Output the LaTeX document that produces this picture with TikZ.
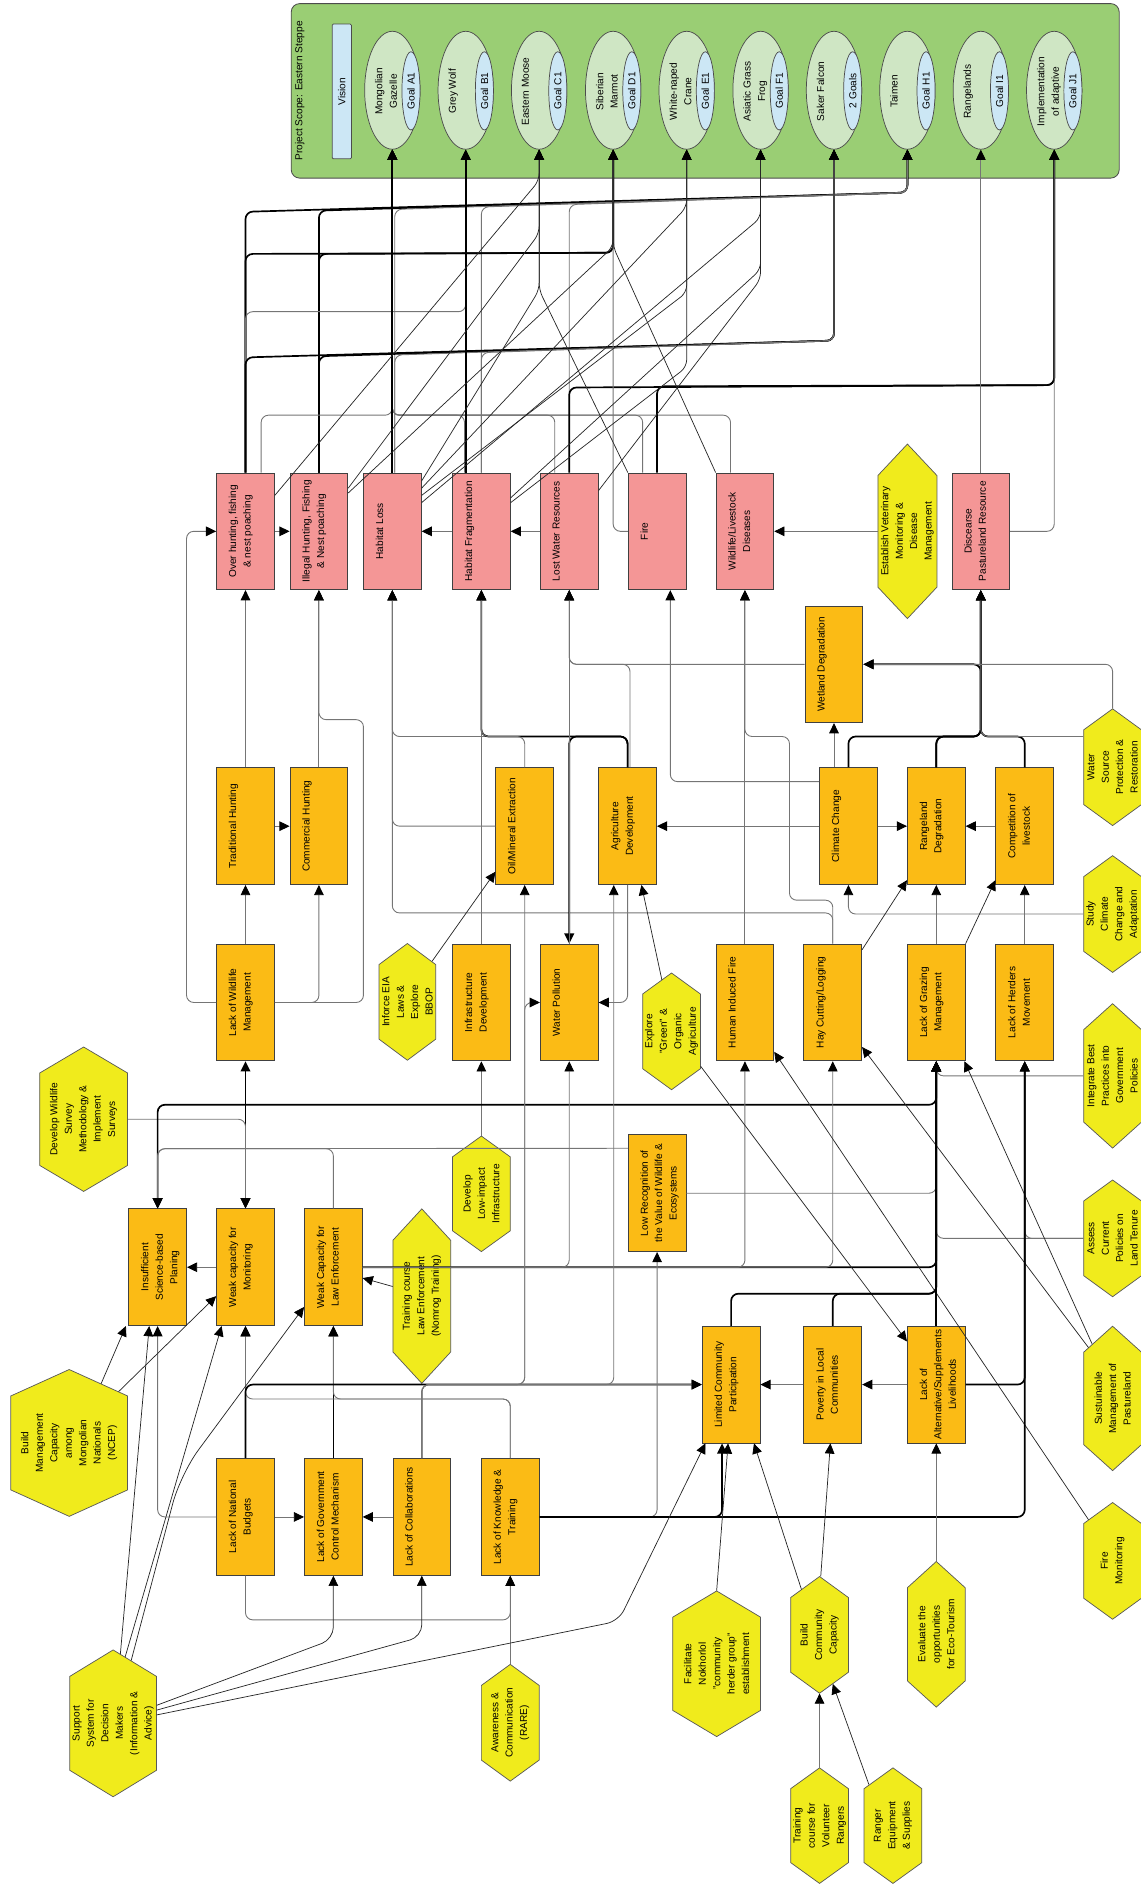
\documentclass[tikz,border=0pt]{standalone}
\usepackage{fontspec}
\setmainfont{Liberation Sans}
\usetikzlibrary{arrows.meta,calc,shapes.geometric}
\definecolor{pinkc}{HTML}{F49696}
\definecolor{orc}{HTML}{FBBB15}
\definecolor{yelc}{HTML}{F0EB1C}
\definecolor{grc}{HTML}{9ACE74}
\definecolor{elc}{HTML}{CFE6C4}
\definecolor{blc}{HTML}{CCE7F5}
\definecolor{lnc}{HTML}{757575}
\tikzset{
 every node/.style={font=\fontsize{8.4}{12}\selectfont},
 bxs/.style={draw=black!75,line width=0.7pt,minimum width=48pt,minimum height=97pt,inner sep=0pt},
 tx/.style={rotate=90,align=center,inner sep=0pt},
 tk/.style={draw=black,line width=1.4pt,rounded corners=6pt,-{Triangle[length=8.5pt,width=8pt]}},
 tn/.style={draw=lnc,line width=0.75pt,rounded corners=6pt,-{Triangle[length=8.5pt,width=8pt,color=black]}},
 dg/.style={draw=black!85,line width=0.6pt,rounded corners=6pt,-{Triangle[length=8.5pt,width=8pt,color=black]}},
}
\newcommand\bx[5]{\node[bxs,fill=#4] (#1) at (#2,#3) {};\node[tx,anchor=north] at ($(#1.center)+(-14,0)$) {#5};}
\newcommand\hx[6]{\node[inner sep=0pt,minimum width=#4pt,minimum height=#5pt] (#1) at (#2,#3) {};
 \filldraw[fill=yelc,draw=black!65,line width=0.6pt] (#2,#3) ++(0,-#5/2) -- ++(#4/2,0.18*#5) -- ++(0,0.64*#5) -- ++(-#4/2,0.18*#5) -- ++(-#4/2,-0.18*#5) -- ++(0,-0.64*#5) -- cycle;
 \node[tx] at (#1) {#6};}
\newcommand\goal[4]{%
 \node[ellipse,draw=black!70,line width=0.6pt,fill=elc,minimum width=46pt,minimum height=98pt,inner sep=0pt] (#1) at (#2,75) {};
 \node[ellipse,draw=black!70,line width=0.6pt,fill=blc,minimum width=15pt,minimum height=65pt,inner sep=0pt] at (#2+15.5,75.5) {};
 \node[tx,anchor=north] at (#2-14.5,76) {#3};
 \node[tx] at (#2+15.5,75.5) {#4};}
\begin{document}
\begin{tikzpicture}[x=1pt,y=-1pt]
\useasboundingbox (0,0) rectangle (948,1568);
% ---------- scope panel ----------
\node[draw=black!70,fill=grc,line width=0.7pt,rounded corners=7pt,minimum width=688pt,minimum height=145pt,inner sep=0pt] (PANEL) at (586,75.5) {};
\node[tx] (PT) at (249,75.5) {Project Scope: Eastern Steppe};
\node[draw=black!70,fill=blc,line width=0.6pt,minimum width=16pt,minimum height=112pt,inner sep=0pt,rounded corners=1pt] (VIS) at (284,76) {};
\node[tx] at (VIS) {Vision};
\goal{G1}{326}{Mongolian\\Gazelle}{Goal A1}
\goal{G2}{387}{Grey Wolf}{Goal B1}
\goal{G3}{448}{Eastern Moose}{Goal C1}
\goal{G4}{509.5}{Siberian\\Marmot}{Goal D1}
\goal{G5}{570.6}{White-naped\\Crane}{Goal E1}
\goal{G6}{632}{Asiatic Grass\\Frog}{Goal F1}
\goal{G7}{693}{Saker Falcon}{2 Goals}
\goal{G8}{754}{Taimen}{Goal H1}
\goal{G9}{815}{Rangelands}{Goal I1}
\goal{G10}{876}{Implementation\\of adaptive}{Goal J1}
% ---------- threats ----------
\bx{OH}{204}{441.5}{pinkc}{Over hunting, fishing\\\& nest poaching}
\bx{IH}{265}{441.5}{pinkc}{Illegal Hunting, Fishing\\\& Nest poaching}
\bx{HL}{326}{441.5}{pinkc}{Habitat Loss}
\bx{HF}{400}{441.5}{pinkc}{Habitat Fragmentation}
\bx{LW}{473}{441.5}{pinkc}{Lost Water Resources}
\bx{FI}{546}{441.5}{pinkc}{Fire}
\bx{WD}{619}{441.5}{pinkc}{Wildlife/Livestock\\Diseases}
\bx{DP}{815}{441.5}{pinkc}{Discearse\\Pastureland Resource}
\hx{EV}{754}{441.5}{49}{145}{Establish Veterinary\\Monitoring \&\\Disease\\Management}
\bx{WET}{693}{552}{orc}{Wetland Degradation}
% ---------- row 2 ----------
\bx{TH}{204}{686.5}{orc}{Traditional Hunting}
\bx{CH}{265}{686.5}{orc}{Commercial Hunting}
\bx{OM}{436}{686.5}{orc}{Oil/Mineral Extraction}
\bx{AD}{521.5}{686.5}{orc}{Agriculture\\Development}
\bx{CC}{705}{686.5}{orc}{Climate Change}
\bx{RD}{778}{686.5}{orc}{Rangeland\\Degradation}
\bx{CL}{851.5}{686.5}{orc}{Competition of\\livestock}
\hx{WS}{924.5}{637.5}{48}{97}{Water\\Source\\Protection \&\\Restoration}
% ---------- row 3 ----------
\bx{LWM}{204}{833}{orc}{Lack of Wildlife\\Management}
\hx{EIA}{338.5}{832.5}{47}{97}{Inforce EIA\\Laws \&\\Explore\\BBOP}
\bx{ID}{400}{833}{orc}{Infrastructure\\Development}
\bx{WP}{473}{833}{orc}{Water Pollution}
\hx{EG}{558}{857}{48}{97}{Explore\\"Green" \&\\Organic\\Agriculture}
\bx{HIF}{619}{833}{orc}{Human Induced Fire}
\bx{HC}{692}{833}{orc}{Hay Cutting/Logging}
\bx{LGM}{778}{833}{orc}{Lack of Grazing\\Management}
\bx{LHM}{851.5}{833}{orc}{Lack of Herders\\Movement}
\hx{ST}{924.5}{759.5}{48}{97}{Study\\Climate\\Change and\\Adaptation}
\hx{IB}{924.5}{894}{48}{120}{Integrate Best\\Practices into\\Government\\Policies}
\hx{AS}{924.5}{1029}{48}{97}{Assess\\Current\\Policies on\\Land Tenure}
\hx{SM}{924.5}{1162}{48}{120}{Sustuinable\\Management of\\Pastureland}
\hx{FM}{924.5}{1297}{48}{97}{Fire\\Monitoring}
% ---------- row 4 ----------
\hx{SV}{69.5}{930}{73}{120}{Develop Wildlife\\Survey\\Methodology \&\\Implement\\Surveys}
\bx{LR}{546}{991.5}{orc}{Low Recognition of\\the Value of Wildlife \&\\Ecosystems}
\hx{DL}{400}{992}{48}{96}{Develop\\Low-impact\\Infrastructure}
\bx{IS}{131}{1053}{orc}{Insufficient\\Science-based\\Planing}
\bx{WM}{204}{1053}{orc}{Weak capacity for\\Monitoring}
\bx{WLE}{277}{1053}{orc}{Weak Capacity for\\Law Enforcement}
\hx{TR}{350.5}{1077}{48}{145}{Training course\\Law Enforcement\\(Nomrog Training)}
\hx{BM}{57.5}{1199}{97}{122}{Build\\Management\\Capacity\\among\\Mongolian\\Nationals\\(NCEP)}
% ---------- row 5 / 6 ----------
\bx{LCP}{607.5}{1150.5}{orc}{Limited Community\\Participation}
\bx{PLC}{692}{1150.5}{orc}{Poverty in Local\\Communities}
\bx{LAL}{778}{1150.5}{orc}{Lack of\\Alternative/Supplements\\Livelihoods}
\bx{LNB}{204}{1260.5}{orc}{Lack of National\\Budgets}
\bx{LGC}{277}{1260.5}{orc}{Lack of Government\\Control Mechanism}
\bx{LC}{350.5}{1260.5}{orc}{Lack of Collaborations}
\bx{LKT}{424}{1260.5}{orc}{Lack of Knowledge \&\\Training}
% ---------- bottom strategies ----------
\hx{SS}{94}{1432}{72}{122}{Support\\System for\\Decision\\Makers\\(Information \&\\Advice)}
\hx{AW}{424}{1431.5}{48}{97}{Awareness \&\\Communication\\(RARE)}
\hx{FC}{595.5}{1382.5}{73}{121}{Facilitate\\Nokhorlol\\"community\\herder group"\\establishment}
\hx{BC}{681}{1358.5}{48}{97}{Build\\Community\\Capacity}
\hx{EO}{778}{1358}{48}{121}{Evaluate the\\opportunities\\for Eco-Tourism}
\hx{TV}{681}{1517}{48}{96}{Training\\course for\\Volunteer\\Rangers}
\hx{RE}{742}{1517}{48}{96}{Ranger\\Equipment\\\& Supplies}
% ================= connectors: threats -> goals =================
\draw[tk] (OH.north) -- (204,176) -- (754,160) -- (G8.south);
\draw[tk] (IH.north) -- (265,175) -- (754,160) -- (G8.south);
\draw[tn] ($(HL.north)+(2,0)$) -- (328,174) -- (754,160) -- (G8.south);
\draw[tn] (HF.north) -- (400,172) -- (754,160) -- (G8.south);
\draw[tn] (LW.north) -- (473,170) -- (754,160) -- (G8.south);
\draw[tk] (OH.north) -- (204,211) -- (509.5,210) -- (G4.south);
\draw[tk] (IH.north) -- (265,211) -- (509.5,210) -- (G4.south);
\draw[tn] (OH.north) -- (204,259) -- (387,259) -- (G2.south);
\draw[tk] (OH.north) -- (204,297) -- (693,283) -- (G7.south);
\draw[tk] (IH.north) -- (265,296) -- (693,283) -- (G7.south);
\draw[tn] ($(HL.north)+(2,0)$) -- (328,295) -- (693,283) -- (G7.south);
\draw[tn] (HF.north) -- (400,293) -- (693,283) -- (G7.south);
\draw[tn] ($(OH.north)+(13,0)$) -- (217,345) -- (326,345) -- (G1.south);
\draw[tn] ($(HF.north)+(-14,0)$) -- (386,345) -- (326,345) -- (G1.south);
\draw[tn] ($(LW.north)+(-12,0)$) -- (461,345) -- (326,345) -- (G1.south);
\draw[tn] ($(FI.north)+(-12,0)$) -- (534,345) -- (326,345) -- (G1.south);
\draw[tn] ($(WD.north)+(-12,0)$) -- (607,345) -- (326,345) -- (G1.south);
\draw[tk] (HL.north) -- (G1.south);
\draw[tk] ($(HF.north)+(-13,0)$) -- (G2.south);
\draw[tk] (LW.north) -- (473,322) -- (876,320) -- (G10.south);
\draw[tk] (FI.north) -- (546,321) -- (876,320) -- (G10.south);
\draw[tn] (FI.west) -- (509.5,441.5) -- (G4.south);
\draw[tn] (DP.north) -- (G9.south);
\draw[tn] (DP.east) -- (876,441.5) -- (G10.south);
% diagonals
\draw[dg] ($(OH.north east)+(0,19)$) -- (448,150) -- (G3.south);
\draw[dg] ($(IH.north east)+(0,13)$) -- (448,194) -- (G3.south);
\draw[dg] ($(IH.north east)+(0,17)$) -- (509.5,205) -- (G4.south);
\draw[dg] ($(HL.north east)+(0,7)$) -- (448,241) -- (G3.south);
\draw[dg] ($(HL.north east)+(0,13)$) -- (570.6,172) -- (G5.south);
\draw[dg] ($(HL.north east)+(0,19)$) -- (570.6,243) -- (G5.south);
\draw[dg] ($(HL.north east)+(0,25)$) -- (632,181) -- (G6.south);
\draw[dg] ($(HF.north east)+(0,21)$) -- (632,224) -- (G6.south);
\draw[dg] ($(HF.north east)+(0,25)$) -- (570.6,305) -- (G5.south);
\draw[dg] ($(LW.north east)+(0,15)$) -- (632,232) -- (G6.south);
\draw[dg] (FI.north west) -- (448,241) -- (G3.south);
\draw[dg] (WD.north west) -- (509.5,205) -- (G4.south);
% ================= middle =================
\draw[tn] (OH.east) -- (IH.west);
\draw[tn] (HF.west) -- (HL.east);
\draw[tn] (LW.west) -- (HF.east);
\draw[tn] (EV.west) -- (WD.east);
\draw[tn] (TH.north) -- (OH.south);
\draw[tn] (CH.north) -- (IH.south);
\draw[tn] (LWM.north) -- (TH.south);
\draw[tn] (TH.east) -- (CH.west);
\draw[tn] (LWM.west) -- (155,833) -- (155,441.5) -- (OH.west);
\draw[tn] (LWM.east) -- (265,833) -- (CH.south);
\draw[tn] (LWM.east) -- (302,833) -- (302,598) -- (265,598) -- (IH.south);
\draw[tn] (OM.west) -- (326,686.5) -- (HL.south);
\draw[tn] (HC.north) -- (692,758.6) -- (326,758.6) -- (HL.south);
\draw[tn] (AD.north) -- (521.5,612) -- (326,612) -- (HL.south);
\draw[tk] (AD.north) -- (521.5,612) -- (400,612) -- (HF.south);
\draw[tn] (OM.north) -- (436,612) -- (400,612) -- (HF.south);
\draw[tk] (AD.north) -- (521.5,612) -- (473,612) -- (WP.north);
\draw[tn] ($(AD.north)+(2,0)$) -- (523.5,552) -- (473,552) -- (LW.south);
\draw[tn] (WET.west) -- (473,552) -- (LW.south);
\draw[tn] (WP.north) -- (LW.south);
\draw[tn] (ID.north) -- (HF.south);
\draw[tn] (DL.north) -- (ID.south);
\draw[tn] (AD.south) -- (521.5,833) -- (WP.east);
\draw[tn] (HIF.north) -- (WD.south);
\draw[tn] (HC.north) -- (692,748) -- (656,748) -- (656,612) -- (619,612) -- (WD.south);
\draw[tn] ($(CC.west)+(0,-37)$) -- (557,649.5) -- ($(FI.south)+(11,0)$);
\draw[tn] (CC.west) -- (AD.east);
\draw[tn] ($(CC.north)+(-12,0)$) -- (WET.south);
\draw[tk] (CC.north) -- (705,612) -- (815,612) -- (DP.south);
\draw[tk] (RD.north) -- (778,612) -- (815,612) -- (DP.south);
\draw[tk] (CL.north) -- (851.5,612) -- (815,612) -- (DP.south);
\draw[tk] (RD.north) -- (778,612) -- (815,612) -- (815,552) -- (WET.east);
\draw[tn] ($(WS.west)+(0,-25.5)$) -- (815,612) -- (DP.south);
\draw[tn] (WS.north) -- (924.5,552) -- (WET.east);
\draw[tn] (CC.east) -- (RD.west);
\draw[tn] (CL.west) -- (RD.east);
\draw[tn] (ST.west) -- (705,759.5) -- (CC.south);
\draw[dg] ($(EIA.north)+(20.5,15)$) -- ($(OM.south west)+(0,-11)$);
\draw[dg] ($(EG.north)+(-8,6)$) -- ($(AD.south)+(11.5,0)$);
\draw[dg] ($(HC.north east)+(0,5)$) -- ($(RD.south west)+(0,-4)$);
\draw[tn] (LGM.north) -- (RD.south);
\draw[dg] (LGM.north east) -- ($(CL.south west)+(0,-4)$);
\draw[tn] (LHM.north) -- (CL.south);
% ================= lower middle =================
\draw[tk,{Triangle[length=8.5pt,width=8pt]}-{Triangle[length=8.5pt,width=8pt]}] (WM.north) -- (LWM.south);
\draw[tn] (SV.east) -- (204,930) -- (WM.north);
\draw[tk,{Triangle[length=8.5pt,width=8pt]}-{Triangle[length=8.5pt,width=8pt]}] (IS.north) -- (131,918) -- (778,918) -- (LGM.south);
\draw[tn] ($(LR.north west)+(0,11.5)$) -- (131,954.5) -- (IS.north);
\draw[tn] (WLE.north) -- (277,954.5) -- (131,954.5) -- (IS.north);
\draw[tn] (WM.west) -- (IS.east);
\draw[tk] (WLE.east) -- (778,1053) -- (LGM.south);
\draw[tn] (WLE.east) -- (473,1053) -- (WP.south);
\draw[tn] (WLE.east) -- (619,1053) -- (HIF.south);
\draw[tn] (WLE.east) -- (692,1053) -- (HC.south);
\draw[dg] ($(TR.west)+(0,-8)$) -- ($(WLE.east)+(0,9)$);
\draw[tn] (LR.east) -- (778,991.5) -- (LGM.south);
\draw[tn] (IB.west) -- (778,894) -- (LGM.south);
\draw[tn] (AS.west) -- (851.5,1029) -- (LHM.south);
\draw[tn] (AS.west) -- (778,1029) -- (LGM.south);
\draw[dg] ($(SM.north)+(-20,18)$) -- ($(HC.east)+(0,37)$);
\draw[dg] ($(SM.north)+(-17,15)$) -- ($(LGM.south east)+(-1,0)$);
\draw[dg] ($(FM.north)+(-20,14.5)$) -- ($(HIF.east)+(0,41)$);
\draw[dg] ($(EG.east)+(0,29)$) -- ($(LAL.north west)+(0,13)$);
% ================= rows 5 / 6 =================
\draw[tk] (LCP.north) -- (607.5,1075) -- (778,1075) -- (LGM.south);
\draw[tk] (PLC.north) -- (692,1075) -- (778,1075) -- (LGM.south);
\draw[tk] (LAL.north) -- (LGM.south);
\draw[tn] (LAL.west) -- (PLC.east);
\draw[tn] (PLC.west) -- (LCP.east);
\draw[tk] (LAL.east) -- (851.5,1150.5) -- (LHM.south);
\draw[tk] (LNB.north) -- (WM.south);
\draw[tk] (LGC.north) -- (WLE.south);
\draw[tn] (LKT.north) -- (424,1162.5) -- (277,1162.5) -- (WLE.south);
\draw[tn] (LKT.north) -- (424,1162.5) -- (204,1162.5) -- (WM.south);
\draw[tk] (LNB.north) -- (204,1150.5) -- (LCP.west);
\draw[tn] (LC.north) -- (350.5,1150.5) -- (LCP.west);
\draw[tn] (LC.north) -- (350.5,1150.5) -- (436,1150.5) -- (OM.south);
\draw[tn] (LC.north) -- (350.5,1150.5) -- (510,1150.5) -- ($(AD.south)+(-11.5,0)$);
\draw[tn] (LC.north) -- (350.5,1150.5) -- (436,1150.5) -- (436,833) -- (WP.west);
\draw[tn] (LNB.west) -- (131,1260.5) -- (IS.south);
\draw[tn] (LNB.east) -- (LGC.west);
\draw[tn] (LC.west) -- (LGC.east);
\draw[tk] (LKT.east) -- (600,1260.5) -- ($(LCP.south)+(-7.5,0)$);
\draw[tn] (LKT.east) -- (546,1260.5) -- (LR.south);
\draw[tk] (LKT.east) -- (851.5,1260.5) -- (LHM.south);
% ================= bottom =================
\draw[tn] (LNB.south) -- (204,1346) -- (424,1346) -- (LKT.south);
\draw[tn] (AW.north) -- (LKT.south);
\draw[dg] ($(SS.north)+(6,3.7)$) -- ($(IS.south)+(-7,0)$);
\draw[dg] ($(SS.north)+(10,6)$) -- ($(WM.south west)+(4.5,0)$);
\draw[dg,rounded corners=25pt] ($(SS.north)+(15,9)$) -- (150,1225) -- ($(WLE.west)+(0,33)$);
\draw[dg,rounded corners=10pt] ($(SS.east)+(0,-15)$) -- (277,1362) -- (LGC.south);
\draw[dg,rounded corners=10pt] ($(SS.east)+(0,-11)$) -- (350.5,1360) -- (LC.south);
\draw[dg,rounded corners=10pt] ($(SS.east)+(0,-7)$) -- (514,1347) -- ($(LCP.south west)+(3,0)$);
\draw[dg] ($(BM.north)+(26.5,12)$) -- ($(IS.south west)+(-2,0)$);
\draw[dg] ($(BM.north)+(41,18.6)$) -- ($(WM.west)+(0,24)$);
\draw[dg] (FC.north) -- ($(LCP.south)+(-2.5,0)$);
\draw[dg] ($(BC.north)+(-15,11)$) -- ($(LCP.south)+(19,0)$);
\draw[dg] ($(BC.north)+(1,0)$) -- ($(PLC.south)+(-2,0)$);
\draw[tn] (EO.north) -- (LAL.south);
\draw[tn] (TV.north) -- (BC.south);
\draw[dg] ($(RE.north)+(-20,14)$) -- ($(BC.south)+(11,-8)$);
\end{tikzpicture}
\end{document}
